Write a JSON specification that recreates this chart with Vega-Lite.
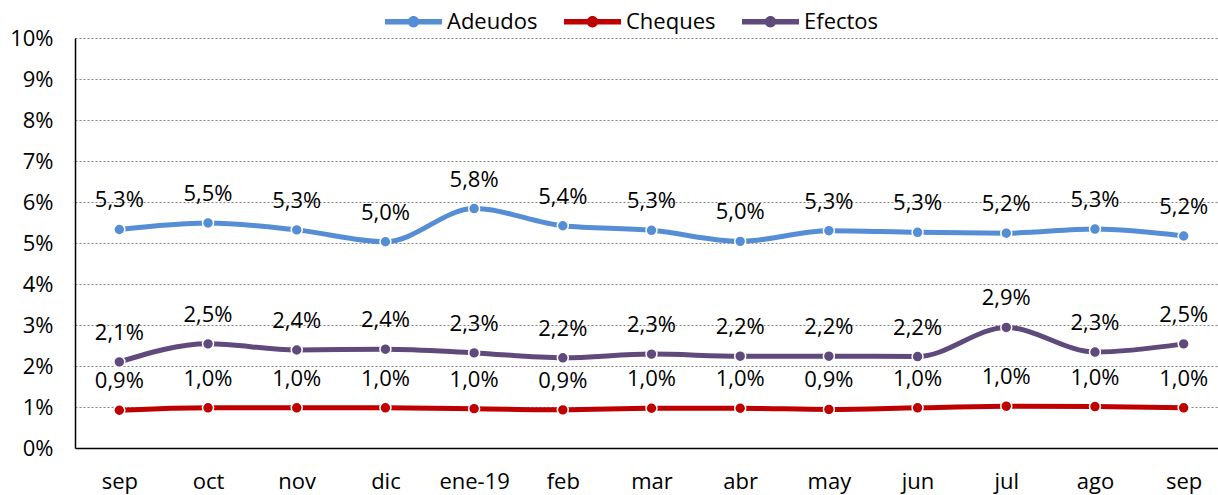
{
  "$schema": "https://vega.github.io/schema/vega-lite/v6.json",
  "width": 1153,
  "height": 410,
  "autosize": {"type": "none"},
  "padding": {"left": 75, "top": 38, "right": 0, "bottom": 47},
  "background": "white",
  "config": {
    "font": "Open Sans",
    "view": {"stroke": null},
    "locale": {"number": {"decimal": ",", "thousands": ".", "grouping": [3], "currency": ["", " €"]}}
  },
  "data": {
    "values": [
      {"m": "sep-18", "s": "Adeudos", "v": 0.0533},
      {"m": "oct", "s": "Adeudos", "v": 0.0549},
      {"m": "nov", "s": "Adeudos", "v": 0.0532},
      {"m": "dic", "s": "Adeudos", "v": 0.0503},
      {"m": "ene-19", "s": "Adeudos", "v": 0.0584},
      {"m": "feb", "s": "Adeudos", "v": 0.0542},
      {"m": "mar", "s": "Adeudos", "v": 0.0531},
      {"m": "abr", "s": "Adeudos", "v": 0.0504},
      {"m": "may", "s": "Adeudos", "v": 0.053},
      {"m": "jun", "s": "Adeudos", "v": 0.0526},
      {"m": "jul", "s": "Adeudos", "v": 0.0524},
      {"m": "ago", "s": "Adeudos", "v": 0.0534},
      {"m": "sep-19", "s": "Adeudos", "v": 0.0517},
      {"m": "sep-18", "s": "Cheques", "v": 0.0092},
      {"m": "oct", "s": "Cheques", "v": 0.0098},
      {"m": "nov", "s": "Cheques", "v": 0.0098},
      {"m": "dic", "s": "Cheques", "v": 0.0098},
      {"m": "ene-19", "s": "Cheques", "v": 0.0096},
      {"m": "feb", "s": "Cheques", "v": 0.0093},
      {"m": "mar", "s": "Cheques", "v": 0.0097},
      {"m": "abr", "s": "Cheques", "v": 0.0097},
      {"m": "may", "s": "Cheques", "v": 0.0094},
      {"m": "jun", "s": "Cheques", "v": 0.0098},
      {"m": "jul", "s": "Cheques", "v": 0.0102},
      {"m": "ago", "s": "Cheques", "v": 0.0101},
      {"m": "sep-19", "s": "Cheques", "v": 0.0098},
      {"m": "sep-18", "s": "Efectos", "v": 0.021},
      {"m": "oct", "s": "Efectos", "v": 0.0254},
      {"m": "nov", "s": "Efectos", "v": 0.0239},
      {"m": "dic", "s": "Efectos", "v": 0.0241},
      {"m": "ene-19", "s": "Efectos", "v": 0.0232},
      {"m": "feb", "s": "Efectos", "v": 0.022},
      {"m": "mar", "s": "Efectos", "v": 0.0229},
      {"m": "abr", "s": "Efectos", "v": 0.0224},
      {"m": "may", "s": "Efectos", "v": 0.0224},
      {"m": "jun", "s": "Efectos", "v": 0.0223},
      {"m": "jul", "s": "Efectos", "v": 0.0294},
      {"m": "ago", "s": "Efectos", "v": 0.0234},
      {"m": "sep-19", "s": "Efectos", "v": 0.0254}
    ]
  },
  "encoding": {
    "x": {
      "field": "m",
      "type": "ordinal",
      "sort": null,
      "scale": {"type": "point", "padding": 0.5},
      "axis": {
        "title": null,
        "labelAngle": 0,
        "labelFontSize": 22,
        "labelColor": "#000000",
        "labelPadding": 23,
        "ticks": false,
        "domainColor": "#000000",
        "domainWidth": 1.5,
        "labelExpr": "indexof(datum.value, 'sep') == 0 ? 'sep' : datum.value"
      }
    },
    "y": {
      "field": "v",
      "type": "quantitative",
      "scale": {"domain": [0, 0.1]},
      "axis": {
        "title": null,
        "format": ".0%",
        "values": [0, 0.01, 0.02, 0.03, 0.04, 0.05, 0.06, 0.07, 0.08, 0.09, 0.1],
        "labelFontSize": 22,
        "labelColor": "#000000",
        "labelPadding": 22,
        "labelOverlap": false,
        "ticks": false,
        "domainColor": "#000000",
        "domainWidth": 1.5,
        "gridColor": "#808080",
        "gridDash": [2, 2],
        "gridWidth": 1
      }
    },
    "color": {
      "field": "s",
      "type": "nominal",
      "scale": {"domain": ["Adeudos", "Cheques", "Efectos"], "range": ["#558ED5", "#C00000", "#604A7B"]},
      "legend": {
        "title": null,
        "orient": "none",
        "direction": "horizontal",
        "legendX": 310,
        "legendY": -45,
        "labelFontSize": 22,
        "labelColor": "#000000",
        "labelOffset": 5,
        "columnPadding": 26,
        "symbolType": "M-1,-0.1H1V0.1H-1Z M0,-0.2A0.2,0.2 0 1,1 0,0.2A0.2,0.2 0 1,1 0,-0.2Z",
        "symbolSize": 3249,
        "symbolStrokeWidth": 0,
        "encode": {
          "symbols": {"update": {"fill": {"scale": "color", "field": "value"}, "fillOpacity": {"value": 1}, "strokeWidth": {"value": 0}}}
        }
      }
    }
  },
  "layer": [
    {"mark": {"type": "line", "strokeWidth": 5, "interpolate": "monotone"}},
    {"mark": {"type": "point", "filled": true, "opacity": 1, "size": 120, "stroke": "white", "strokeWidth": 1.5}},
    {
      "mark": {"type": "text", "fontSize": 22, "dy": -29, "baseline": "middle", "color": "#000000"},
      "encoding": {"text": {"field": "v", "type": "quantitative", "format": ".1%"}, "color": {"value": "#000000"}}
    }
  ]
}
